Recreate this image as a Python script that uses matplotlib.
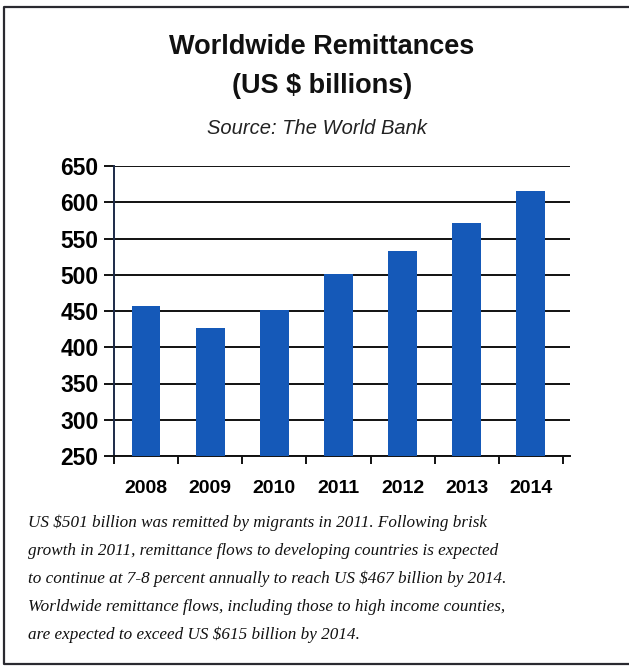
import numpy as np
import matplotlib
matplotlib.use("Agg")
import matplotlib.pyplot as plt
from matplotlib.lines import Line2D

years = ["2008", "2009", "2010", "2011", "2012", "2013", "2014"]
remit = [457, 427, 452, 501, 533, 571, 615]
yticks = [250, 300, 350, 400, 450, 500, 550, 600, 650]

caption = [
    "US $501 billion was remitted by migrants in 2011. Following brisk",
    "growth in 2011, remittance flows to developing countries is expected",
    "to continue at 7-8 percent annually to reach US $467 billion by 2014.",
    "Worldwide remittance flows, including those to high income counties,",
    "are expected to exceed US $615 billion by 2014.",
]

W, H = 629, 666
fig = plt.figure(figsize=(W / 100, H / 100), dpi=100)

# outer frame: left, top, bottom (right edge is cropped off in the scan)
fx = [W, 4 / 1, 4, W]
fy = [7, 7, 664, 664]
fig.lines.append(Line2D([v / W for v in fx], [1 - v / H for v in fy],
                        transform=fig.transFigure, color="#2a2a30", linewidth=1.6))

sans = ["Liberation Sans", "DejaVu Sans"]
fig.text(322 / W, 1 - 47 / H, "Worldwide Remittances", ha="center", va="center",
         fontsize=19.5, fontweight="bold", family=sans, color="#111111")
fig.text(322 / W, 1 - 86 / H, "(US $ billions)", ha="center", va="center",
         fontsize=19.5, fontweight="bold", family=sans, color="#111111")
fig.text(317 / W, 1 - 129 / H, "Source: The World Bank", ha="center", va="center",
         fontsize=14.5, style="italic", family=sans, color="#222222")

ax = fig.add_axes([114 / W, 1 - 456 / H, 456 / W, 290 / H])
x = np.arange(len(years))
ax.bar(x, remit, width=0.45, color="#1559b8", zorder=3)
ax.set_ylim(250, 650)
ax.set_xlim(-0.5, 6.61)
ax.set_yticks(yticks)
ax.set_yticklabels([str(v) for v in yticks], fontsize=16.5, fontweight="bold", family=sans)
ax.yaxis.grid(True, color="#111111", linewidth=1.4, zorder=1)
ax.tick_params(axis="y", length=7, width=1.4, color="#111111", pad=4)

# category labels at centers, tick marks between categories
ax.set_xticks(x)
ax.set_xticklabels(years, fontsize=14, fontweight="bold", family=sans)
ax.tick_params(axis="x", which="major", length=0, pad=17)
ax.set_xticks(np.arange(-0.5, 7, 1.0), minor=True)
ax.tick_params(axis="x", which="minor", length=6, width=1.4, color="#111111", direction="out")
for i, t in enumerate(ax.xaxis.get_minor_ticks()):
    if i >= 6:
        t.tick1line.set_color("#f0a020")

for s in ["top", "right"]:
    ax.spines[s].set_visible(False)
ax.spines["left"].set_color("#1c2a48")
ax.spines["left"].set_linewidth(1.4)
ax.spines["bottom"].set_color("#111111")
ax.spines["bottom"].set_linewidth(1.4)

serif = ["Liberation Serif", "DejaVu Serif"]
for i, line in enumerate(caption):
    fig.text(28 / W, 1 - (523 + i * 28) / H, line, ha="left", va="center",
             fontsize=12.3, style="italic", family=serif, color="#111111")

fig.savefig("out.png", dpi=100)
